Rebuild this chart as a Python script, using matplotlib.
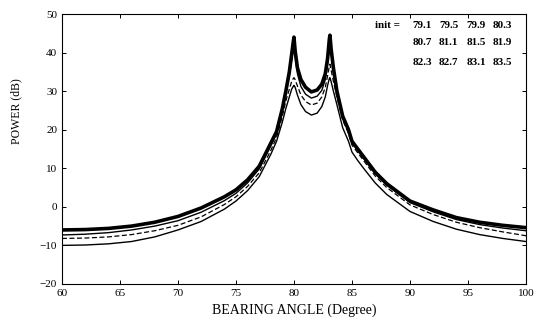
import matplotlib.pyplot as plt
import numpy as np

plt.rcParams['font.family'] = ['Liberation Serif', 'DejaVu Serif']

# bearing angle grid (degree)
angle = [60, 62, 64, 66, 68, 70, 72, 74, 75, 76, 77, 78, 78.5, 79, 79.3, 79.6,
         79.8, 79.95, 80, 80.1, 80.3, 80.6, 81, 81.5, 82, 82.4, 82.7, 82.9,
         83.05, 83.1, 83.2, 83.4, 83.7, 84.2, 84.7, 85, 85.5, 86, 87, 88,
         90, 92, 94, 96, 98, 100]

# power (dB) of the curve bundles
power_a = [-6.0, -5.9, -5.6, -5.0, -4.0, -2.5, -0.3, 2.6, 4.4, 7.0, 10.5, 16.5,
           19.5, 25.5, 30, 35, 39.5, 43, 44, 40.5, 36, 33, 31, 29.8, 30.3,
           31.8, 34.5, 38.5, 43.5, 44.5, 41, 36, 30, 23.5, 20, 17, 15, 13, 9,
           6, 1.5, -0.8, -2.8, -4.0, -4.8, -5.4]
power_b = [-7.3, -7.1, -6.7, -6.0, -5.0, -3.6, -1.4, 1.6, 3.5, 6.2, 9.8, 15.8,
           19.0, 25.0, 29.5, 34, 38, 41.5, 42.5, 39, 34.5, 31.2, 29.2, 28.2,
           28.7, 30.2, 33, 37, 42, 43.5, 40, 35.5, 29.5, 23, 19.6, 16.6, 14.6,
           12.6, 8.6, 5.6, 1.1, -1.3, -3.3, -4.6, -5.5, -6.2]
power_c = [-8.2, -8.1, -7.8, -7.2, -6.2, -4.8, -2.6, 0.6, 2.6, 5.3, 8.8, 14.6,
           18.0, 23.5, 27.5, 30.5, 32.5, 33.3, 33.5, 33, 31.3, 29, 27.3, 26.4,
           26.9, 28.5, 31, 34, 36.5, 37, 35.5, 32.5, 28.5, 22.5, 19.0, 16.0,
           14.0, 12.0, 8.0, 5.0, 0.5, -2.0, -4.0, -5.4, -6.5, -7.5]
power_d = [-10.0, -9.9, -9.6, -9.0, -7.8, -6.0, -3.8, -0.6, 1.5, 4.2, 7.8, 13.6,
           17.0, 22.0, 25.5, 28.5, 30.5, 31.3, 31.5, 31, 29, 26.5, 24.7, 23.8,
           24.3, 26, 28.5, 31.5, 33.3, 33.5, 32.5, 30, 26.5, 20.5, 17.0, 14.2,
           12.0, 10.0, 6.2, 3.2, -1.2, -3.8, -5.8, -7.2, -8.2, -9.0]

init_rows = [['79.1', '79.5', '79.9', '80.3'],
             ['80.7', '81.1', '81.5', '81.9'],
             ['82.3', '82.7', '83.1', '83.5']]

fig = plt.figure(figsize=(5.34, 3.26), dpi=100)
ax = fig.add_axes([0.116, 0.129, 0.869, 0.828])

ax.plot(angle, power_d, color='black', lw=1.0)
ax.plot(angle, power_c, color='black', lw=0.9, ls=(0, (4, 2)))
ax.plot(angle, power_b, color='black', lw=1.0)
ax.plot(angle, power_a, color='black', lw=2.6)

ax.set_xlim(60, 100)
ax.set_ylim(-20, 50)
ax.set_xticks(np.arange(60, 101, 5))
ax.set_yticks(np.arange(-20, 51, 10))
ax.tick_params(direction='in', length=3, labelsize=8, top=True, right=True,
               width=0.7)
for s in ax.spines.values():
    s.set_linewidth(0.8)

ax.set_xlabel('BEARING ANGLE (Degree)', fontsize=10)
ax.set_ylabel('POWER (dB)', fontsize=8.5)
ax.yaxis.set_label_coords(-0.085, 0.64)

ax.text(0.675, 0.959, 'init =', transform=ax.transAxes, fontsize=8,
        fontweight='bold', va='center', ha='left')
cols = [0.756, 0.8125, 0.871, 0.929]
rows = [0.959, 0.893, 0.822]
for r, vals in zip(rows, init_rows):
    for c, v in zip(cols, vals):
        ax.text(c, r, v, transform=ax.transAxes, fontsize=8,
                fontweight='bold', va='center', ha='left')

fig.savefig('out.png', dpi=100)
